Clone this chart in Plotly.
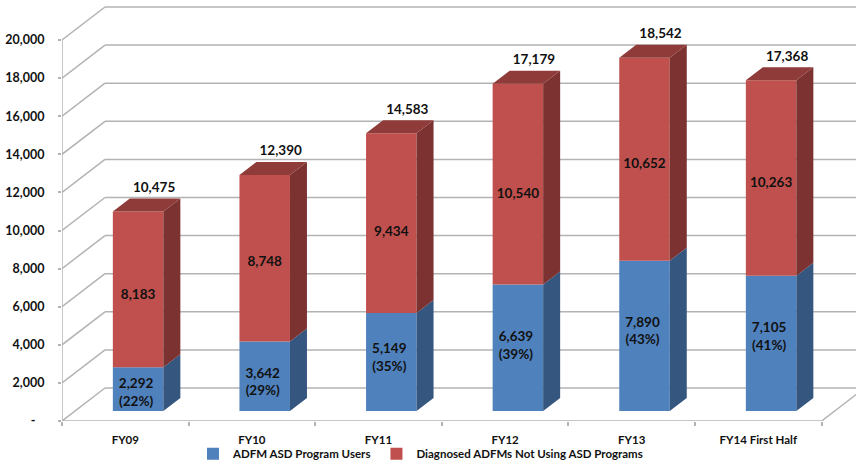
import plotly.graph_objects as go

categories = ["FY09", "FY10", "FY11", "FY12", "FY13", "FY14 First Half"]
users = [2292, 3642, 5149, 6639, 7890, 7105]
user_pct = [22, 29, 35, 39, 43, 41]
non_users = [8183, 8748, 9434, 10540, 10652, 10263]
totals = [10475, 12390, 14583, 17179, 18542, 17368]
y_ticks = [0, 2000, 4000, 6000, 8000, 10000, 12000, 14000, 16000, 18000, 20000]
y_tick_text = ["-\u00a0\u00a0\u00a0"] + [f"{v:,}" for v in y_ticks[1:]]
series_names = ["ADFM ASD Program Users", "Diagnosed ADFMs Not Using ASD Programs"]

# label nudges in pixels (labels were hand placed in the original)
blue_nudge = [4.5, 7, -3.5, -1, -3.5, -5.5]
red_nudge = [6.5, 4.5, 10, 10.5, 5.5, 6]

W, H = 856, 464
L, B = 62, 43
PX_PER_CAT = 126.6
PX_PER_UNIT = 381 / 20000
plot_h = H - B
x_max = (W - L) / PX_PER_CAT
y_max = plot_h / PX_PER_UNIT


def dx(px):
    return px / PX_PER_CAT


def dy(px):
    return px / PX_PER_UNIT


WALL_X, WALL_Y = dx(43), dy(33)
BAR_W = dx(50.5)
BAR_SHIFT = dx(12.8)
BAR_BASE = dy(10)
SIDE_X, SIDE_Y = dx(17), dy(13)
GRID = "#b3b3b3"
FONT = "Lato"
centers = [i + 0.5 + BAR_SHIFT for i in range(len(categories))]


def grid_shape(x0, y0, x1, y1, width=1.5):
    return dict(type="line", xref="x", yref="y", x0=x0, y0=y0, x1=x1, y1=y1,
                layer="below", line=dict(color=GRID, width=width))


shapes = []
for v in y_ticks:
    shapes.append(grid_shape(WALL_X, v + WALL_Y, x_max, v + WALL_Y))
    shapes.append(grid_shape(0, v, WALL_X, v + WALL_Y))
n = len(categories)
shapes.append(grid_shape(0, 0, 0, 20000))
shapes.append(grid_shape(0, 0, n, 0))
shapes.append(grid_shape(n, 0, n + WALL_X, WALL_Y))

fig = go.Figure()

# front faces
fig.add_bar(x=centers, y=users, base=[BAR_BASE] * n, width=BAR_W, name=series_names[0],
            marker=dict(color="#4f81bd", line=dict(width=0)), hoverinfo="y")
fig.add_bar(x=centers, y=non_users, base=[BAR_BASE + u for u in users], width=BAR_W,
            name=series_names[1], marker=dict(color="#c0504d", line=dict(width=0)), hoverinfo="y")


def polygons(points):
    xs, ys = [], []
    for poly in points:
        xs += [p[0] for p in poly] + [poly[0][0], None]
        ys += [p[1] for p in poly] + [poly[0][1], None]
    return xs, ys


def side(c, lo, hi):
    r = c + BAR_W / 2
    return [(r, lo), (r + SIDE_X, lo + SIDE_Y), (r + SIDE_X, hi + SIDE_Y), (r, hi)]


def top(c, h):
    l, r = c - BAR_W / 2, c + BAR_W / 2
    return [(l, h), (l + SIDE_X, h + SIDE_Y), (r + SIDE_X, h + SIDE_Y), (r, h)]


blue_side = [side(c, BAR_BASE, BAR_BASE + u) for c, u in zip(centers, users)]
red_side = [side(c, BAR_BASE + u, BAR_BASE + u + d) for c, u, d in zip(centers, users, non_users)]
red_top = [top(c, BAR_BASE + u + d) for c, u, d in zip(centers, users, non_users)]
for polys, col in [(blue_side, "#34567f"), (red_side, "#7b3230"), (red_top, "#8f3b39")]:
    xs, ys = polygons(polys)
    fig.add_scatter(x=xs, y=ys, mode="lines", fill="toself", fillcolor=col,
                    line=dict(width=0, color=col), hoverinfo="skip", showlegend=False)

label_font = dict(family=FONT, size=13.5, color="#111111", weight="bold")
fig.add_scatter(x=[c - dx(2) for c in centers],
                y=[BAR_BASE + u / 2 - dy(k) for u, k in zip(users, blue_nudge)],
                mode="text", text=[f"{u:,}<br>({p}%)" for u, p in zip(users, user_pct)],
                textposition="middle center", textfont=label_font,
                hoverinfo="skip", showlegend=False)
fig.add_scatter(x=[c - dx(0) for c in centers],
                y=[BAR_BASE + u + d / 2 - dy(k) for u, d, k in zip(users, non_users, red_nudge)],
                mode="text", text=[f"{d:,}" for d in non_users],
                textposition="middle center", textfont=label_font,
                hoverinfo="skip", showlegend=False)
fig.add_scatter(x=[c + dx(16) for c in centers],
                y=[BAR_BASE + t + SIDE_Y + dy(10) for t in totals],
                mode="text", text=[f"{t:,}" for t in totals],
                textposition="middle center", textfont=label_font,
                hoverinfo="skip", showlegend=False)

axis_font = dict(family=FONT, size=12.5, color="#111111", weight="bold")
fig.update_layout(
    width=W, height=H,
    margin=dict(l=L, r=0, t=0, b=B, autoexpand=False),
    paper_bgcolor="white", plot_bgcolor="white",
    barmode="overlay",
    shapes=shapes,
    xaxis=dict(range=[0, x_max], tickvals=[i + 0.5 for i in range(n)], ticktext=categories,
               ticks="", showgrid=False, zeroline=False, showline=False,
               tickfont=dict(family=FONT, size=11.5, color="#111111", weight="bold"),
               ticklabelstandoff=10,
               minor=dict(tickvals=list(range(n + 1)), ticks="outside", ticklen=4,
                          tickcolor=GRID, tickwidth=1.5, showgrid=False)),
    yaxis=dict(range=[0, y_max], tickvals=y_ticks, ticktext=y_tick_text, ticks="outside",
               ticklen=3, tickcolor=GRID, tickwidth=1.5, showgrid=False, zeroline=False,
               showline=False, tickfont=axis_font, ticklabelstandoff=11),
    legend=dict(orientation="h", x=0.165, xanchor="left", y=-0.078, yanchor="middle",
                font=dict(family=FONT, size=11.5, color="#111111", weight="bold"),
                bgcolor="rgba(0,0,0,0)", itemclick=False, itemdoubleclick=False),
)
fig.write_html("out.html", config=dict(displayModeBar=False),
               post_script="document.body.style.margin='0';document.body.style.overflow='hidden';")
